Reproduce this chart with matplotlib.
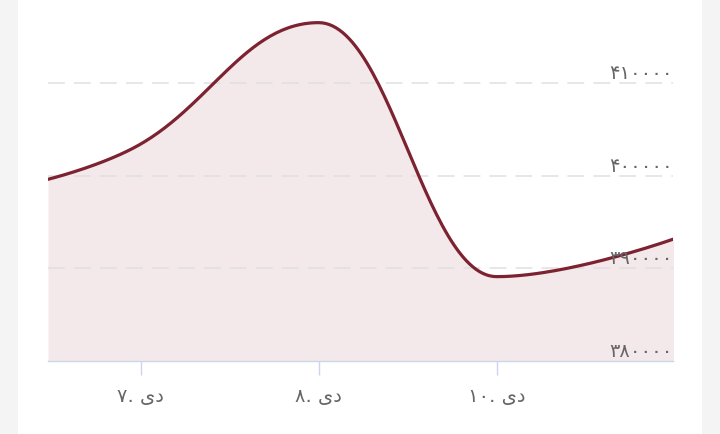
import matplotlib
matplotlib.use("Agg")
import matplotlib.pyplot as plt
import numpy as np
from matplotlib.transforms import blended_transform_factory, offset_copy

# ---- data ----
x_pos = [-0.52, 0.0, 1.0, 2.0, 3.0]
values = [399600, 403400, 416500, 389100, 393200]
xtick_pos = [0, 1, 2]
xtick_labels = ["۷. " + "ی" + "د", "۸. " + "ی" + "د", "۱۰. " + "ی" + "د"]
ytick_vals = [380000, 390000, 400000, 410000]
ytick_labels = ["۳۸۰۰۰۰", "۳۹۰۰۰۰", "۴۰۰۰۰۰", "۴۱۰۰۰۰"]

LINE = "#7c2231"
TXT = "#666666"
AXC = "#ccd6eb"


def spline(xs, ys, n=60):
    """Highcharts-style spline (smoothing 1.5)."""
    N = len(xs)
    lc = [None] * N
    rc = [None] * N
    for i in range(N):
        px, py = xs[i], ys[i]
        if i == 0 or i == N - 1:
            lc[i] = (px, py)
            rc[i] = (px, py)
            continue
        lx, ly = xs[i - 1], ys[i - 1]
        nx, ny = xs[i + 1], ys[i + 1]
        s = 1.5
        d = s + 1
        lcx = (s * px + lx) / d
        lcy = (s * py + ly) / d
        rcx = (s * px + nx) / d
        rcy = (s * py + ny) / d
        if lcx != rcx:
            corr = (rcy - lcy) * (rcx - px) / (rcx - lcx) + py - rcy
            lcy += corr
            rcy += corr
        if lcy > ly and lcy > py:
            lcy = max(ly, py)
            rcy = 2 * py - lcy
        elif lcy < ly and lcy < py:
            lcy = min(ly, py)
            rcy = 2 * py - lcy
        if rcy > ny and rcy > py:
            rcy = max(ny, py)
            lcy = 2 * py - rcy
        elif rcy < ny and rcy < py:
            rcy = min(ny, py)
            lcy = 2 * py - rcy
        lc[i] = (lcx, lcy)
        rc[i] = (rcx, rcy)
    X, Y = [], []
    t = np.linspace(0, 1, n)
    for i in range(N - 1):
        p0 = (xs[i], ys[i])
        p1 = rc[i]
        p2 = lc[i + 1]
        p3 = (xs[i + 1], ys[i + 1])
        bx = (1 - t) ** 3 * p0[0] + 3 * (1 - t) ** 2 * t * p1[0] + 3 * (1 - t) * t ** 2 * p2[0] + t ** 3 * p3[0]
        by = (1 - t) ** 3 * p0[1] + 3 * (1 - t) ** 2 * t * p1[1] + 3 * (1 - t) * t ** 2 * p2[1] + t ** 3 * p3[1]
        X.extend(bx)
        Y.extend(by)
    return np.array(X), np.array(Y)


W, H = 720, 435
fig = plt.figure(figsize=(W / 100, H / 100), dpi=100)
fig.patch.set_facecolor("#f4f4f4")
card = plt.Rectangle((18 / W, 0), (702 - 18) / W, 1, transform=fig.transFigure,
                     facecolor="white", edgecolor="none", zorder=-10)
fig.patches.append(card)

ax = fig.add_axes([48 / W, (H - 362) / H, (673 - 48) / W, 362 / H])
ax.set_facecolor("none")
ymin = 380000
ymax = 380000 + 362 / 92.7 * 10000
ax.set_ylim(ymin, ymax)
ax.set_xlim(-0.52, 2.99)

sx, sy = spline(x_pos, values)
ax.fill_between(sx, sy, ymin, color="#8b2332", alpha=0.1, linewidth=0, zorder=1)
ax.plot(sx, sy, color=LINE, lw=2.3, solid_capstyle="round", zorder=3)

for v in ytick_vals[1:]:
    ax.axhline(v, color="#e0e0e0", lw=1.1, ls=(0, (11, 6)), zorder=2)

for s in ["top", "right", "left"]:
    ax.spines[s].set_visible(False)
ax.spines["bottom"].set_color(AXC)
ax.spines["bottom"].set_linewidth(1.0)
ax.set_yticks([])
ax.set_xticks(xtick_pos)
ax.set_xticklabels(xtick_labels, fontsize=14, color=TXT, family="DejaVu Sans")
ax.tick_params(axis="x", length=10, width=1, color=AXC, pad=8)

tr = blended_transform_factory(ax.transAxes, ax.transData)
tr = offset_copy(tr, fig=fig, x=0, y=1, units="dots")
for v, lab in zip(ytick_vals, ytick_labels):
    ax.text(1.0, v, lab, transform=tr, ha="right", va="bottom", fontsize=14,
            color=TXT, family="DejaVu Sans", zorder=4)

fig.savefig("out.png", dpi=100, facecolor=fig.get_facecolor())
